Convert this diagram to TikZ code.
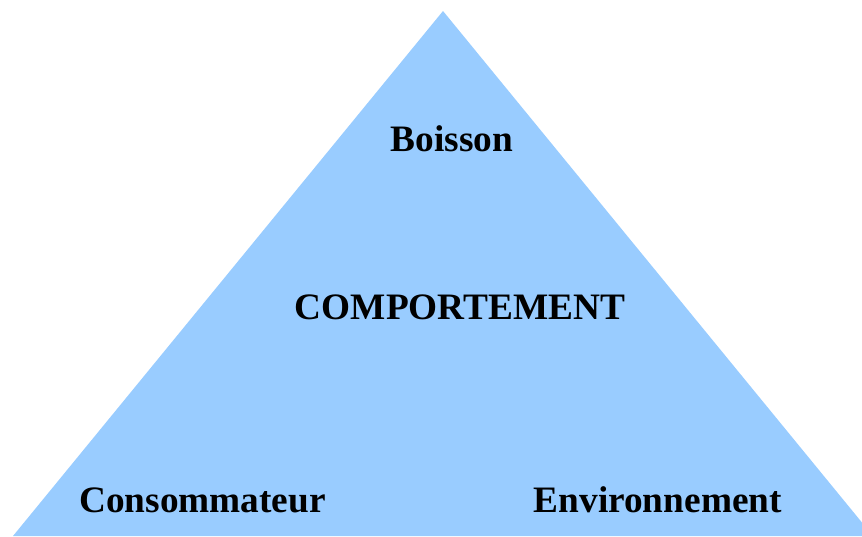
\documentclass[tikz,border=0pt]{standalone}
\usepackage{fontspec}
\setmainfont{Liberation Serif}
\definecolor{pyramid}{HTML}{99CCFF}
\begin{document}
\begin{tikzpicture}[x=1pt,y=-1pt,
  label text/.style={font=\fontsize{37.3}{41}\selectfont\bfseries, text=black, inner sep=0pt}]
  \useasboundingbox (0,0) rectangle (862,536);
  \clip (0,0) rectangle (862,536);
  % the triangle
  \coordinate (apex) at (443,11);
  \coordinate (left) at (13,536);
  \coordinate (right) at (873,536);
  \fill[pyramid] (apex) -- (left) -- (right) -- cycle;
  % labels
  \node[label text, anchor=base] (boisson) at (452,151) {Boisson};
  \node[label text, anchor=base] (comportement) at (460,319) {COMPORTEMENT};
  \node[label text, anchor=base west] (consommateur) at (79,512) {Consommateur};
  \node[label text, anchor=base east] (environnement) at (782,512) {Environnement};
\end{tikzpicture}
\end{document}
